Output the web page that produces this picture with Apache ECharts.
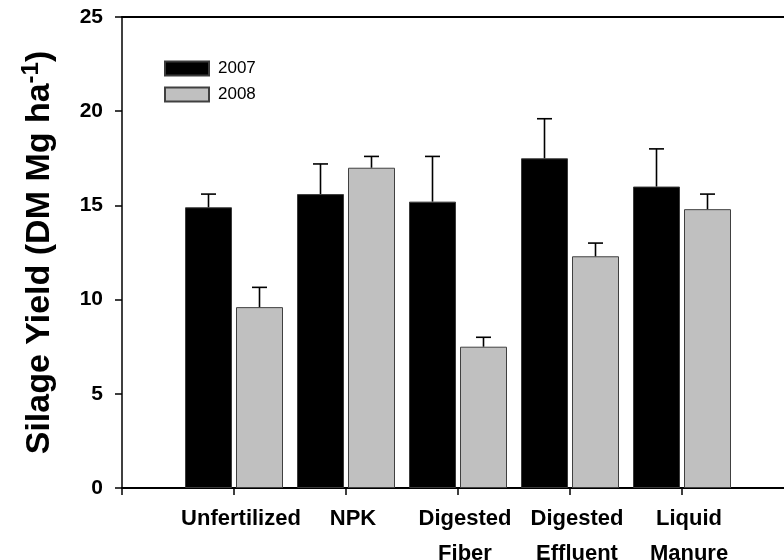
<!DOCTYPE html>
<html>
<head>
<meta charset="utf-8">
<script src="https://cdn.jsdelivr.net/npm/echarts@6/dist/echarts.min.js"></script>
<style>html,body{margin:0;padding:0;background:#fff}#c{width:784px;height:560px}</style>
</head>
<body>
<div id="c"></div>
<script>
const categories = ["Unfertilized", "NPK", "Digested\nFiber", "Digested\nEffluent", "Liquid\nManure"];
const seriesNames = ["2007", "2008"];
const mean2007 = [14.9, 15.6, 15.2, 17.5, 16.0];
const upper2007 = [15.6, 17.2, 17.6, 19.6, 18.0];
const mean2008 = [9.6, 17.0, 7.5, 12.3, 14.8];
const upper2008 = [10.65, 17.6, 8.0, 13.0, 15.6];
const yTicks = [0, 5, 10, 15, 20, 25];

const FONT = "Liberation Sans, Arial, Helvetica, sans-serif";
const BAR_W = 47, GAP = 4, OFF = (BAR_W + GAP) / 2;

function pairs(vals) { return vals.map((v, i) => [i + 1, v]); }
function errData(m, u) { return m.map((v, i) => [i + 1, v, u[i]]); }
function errRender(off) {
  return function (params, api) {
    const x = api.value(0), m = api.value(1), u = api.value(2);
    const p0 = api.coord([x, m]);
    const p1 = api.coord([x, u]);
    const cx = p0[0] + off;
    const st = { stroke: '#000', lineWidth: 1.6 };
    return {
      type: 'group',
      children: [
        { type: 'line', shape: { x1: cx, y1: p0[1], x2: cx, y2: p1[1] }, style: st },
        { type: 'line', shape: { x1: cx - 7.5, y1: p1[1], x2: cx + 7.5, y2: p1[1] }, style: st }
      ]
    };
  };
}

const chart = echarts.init(document.getElementById('c'), null, { renderer: 'canvas' });
chart.setOption({
  animation: false,
  backgroundColor: '#fff',
  textStyle: { fontFamily: FONT },
  grid: { left: 122, right: -10, top: 17, bottom: 72, containLabel: false, outerBoundsMode: 'none' },
  legend: {
    orient: 'vertical', left: 164, top: 60, padding: 0, itemWidth: 44, itemHeight: 14, itemGap: 9,
    icon: 'rect',
    data: seriesNames,
    textStyle: { fontFamily: FONT, fontSize: 17, color: '#000', padding: [0, 0, 0, 4] }
  },
  xAxis: [{
    type: 'value', min: 0, max: 6, interval: 1,
    axisLine: { show: true, lineStyle: { color: '#000', width: 2 } },
    axisTick: { show: true, inside: false, length: 7, lineStyle: { color: '#000', width: 1.5 } },
    splitLine: { show: false },
    axisLabel: {
      show: true, margin: 13, fontFamily: FONT, fontSize: 22, fontWeight: 'bold', color: '#000',
      lineHeight: 35, padding: [0, 0, 0, 14],
      formatter: function (v) { const i = Math.round(v); return (Math.abs(v - i) < 1e-6 && i >= 1 && i <= categories.length) ? categories[i - 1] : ''; }
    }
  }, {
    type: 'value', position: 'top', min: 0, max: 6,
    axisLine: { show: true, lineStyle: { color: '#000', width: 2 } },
    axisTick: { show: false }, axisLabel: { show: false }, splitLine: { show: false }
  }],
  yAxis: {
    type: 'value', min: yTicks[0], max: yTicks[yTicks.length - 1], interval: 5,
    axisLine: { show: true, lineStyle: { color: '#000', width: 1.5 } },
    axisTick: { show: true, inside: false, length: 7, lineStyle: { color: '#000', width: 1.5 } },
    splitLine: { show: false },
    axisLabel: { margin: 19, fontFamily: FONT, fontSize: 21, fontWeight: 'bold', color: '#000' },
    name: '{t|Silage Yield (DM Mg ha}{s|-1}{t|)}',
    nameLocation: 'middle', nameRotate: 90, nameGap: 61,
    nameTextStyle: {
      rich: {
        t: { fontFamily: FONT, fontSize: 34, fontWeight: 'bold', color: '#000' },
        s: { fontFamily: FONT, fontSize: 24, fontWeight: 'bold', color: '#000', padding: [0, 0, 18, 0] }
      }
    }
  },
  series: [
    { name: seriesNames[0], type: 'bar', data: pairs(mean2007), barWidth: BAR_W, barGap: (GAP / BAR_W * 100) + '%',
      itemStyle: { color: '#000', borderColor: '#3a3a3a', borderWidth: 1 } },
    { name: seriesNames[1], type: 'bar', data: pairs(mean2008), barWidth: BAR_W,
      itemStyle: { color: '#c0c0c0', borderColor: '#404040', borderWidth: 1 } },
    { type: 'custom', renderItem: errRender(-OFF), data: errData(mean2007, upper2007), z: 5, silent: true },
    { type: 'custom', renderItem: errRender(OFF), data: errData(mean2008, upper2008), z: 5, silent: true }
  ]
});
</script>
</body>
</html>
